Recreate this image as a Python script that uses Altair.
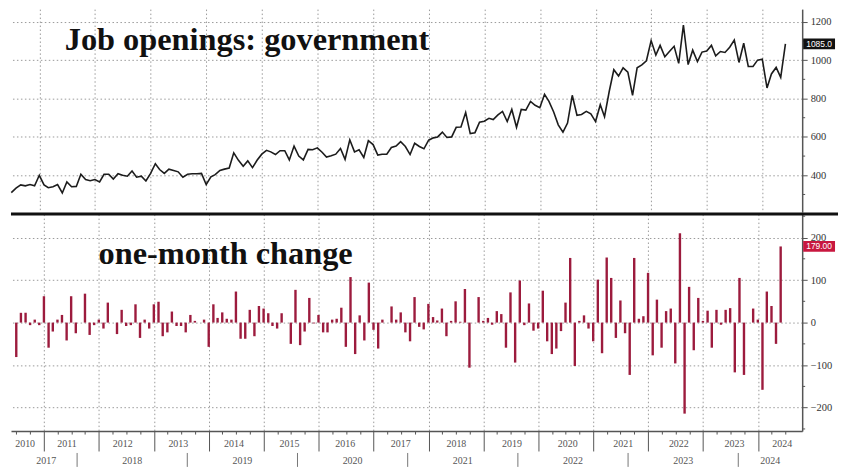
import altair as alt
import pandas as pd

# ---------------- data ----------------
level = [310, 333, 350, 345, 352, 345, 400, 350, 335, 340,
         352, 308, 365, 340, 342, 405, 378, 372, 378, 365,
         405, 405, 380, 408, 400, 395, 422, 390, 395, 370,
         410, 460, 430, 410, 432, 425, 418, 390, 405, 408,
         408, 410, 352, 392, 403, 425, 432, 438, 517, 478,
         447, 475, 440, 478, 510, 530, 522, 508, 528, 528,
         480, 552, 500, 480, 535, 533, 543, 520, 495, 502,
         510, 540, 483, 585, 522, 533, 493, 580, 560, 505,
         510, 510, 545, 552, 575, 550, 508, 567, 550, 538,
         583, 595, 600, 625, 597, 600, 650, 652, 727, 617,
         622, 677, 682, 697, 690, 715, 733, 680, 743, 650,
         743, 740, 785, 765, 752, 822, 785, 730, 663, 625,
         672, 817, 713, 717, 733, 720, 680, 768, 705, 838,
         950, 917, 960, 938, 817, 960, 975, 997, 1102, 1027,
         1077, 1018, 1045, 1072, 983, 1183, 977, 1052, 993, 1042,
         1048, 1077, 1022, 1045, 1040, 1067, 1105, 988, 1088, 967,
         967, 1000, 1005, 855, 928, 962, 910, 1085]

change = [-81, 23, 23, -6, 7, -6, 62, -59, -21, 7,
          18, -42, 62, -25, 0, 68, -29, -6, 7, -14,
          47, 0, -27, 30, -8, -6, 43, -36, 7, -14,
          43, 49, -32, -23, 26, -8, -8, -23, 18, 4,
          0, 7, -57, 43, 11, 24, 9, 7, 73, -38,
          -38, 30, -32, 39, 33, 22, -8, -14, 22, 0,
          -50, 77, -53, -21, 58, -2, 18, -23, -23, 7,
          9, 35, -57, 107, -74, 17, -42, 94, -17, -61,
          7, 0, 38, 7, 24, -23, -44, 60, -10, -16,
          44, 13, 5, 33, -32, 4, 50, 2, 79, -106,
          0, 60, 4, 11, -5, 27, 20, -59, 71, -94,
          99, -6, 45, -19, -14, 75, -44, -74, -61, -20,
          47, 152, -102, 4, 17, -14, -44, 101, -72, 153,
          105, -36, 52, -25, -123, 152, 9, 15, 117, -77,
          54, -59, 27, 33, -96, 210, -214, 84, -65, 58,
          4, 28, -59, 30, -5, 30, 34, -117, 105, -123,
          0, 33, 7, -158, 73, 39, -50, 179]

top_major_ticks = [400, 600, 800, 1000, 1200]
top_minor_ticks = [300, 500, 700, 900, 1100]
bot_major_ticks = [-200, -100, 0, 100, 200]
bot_minor_ticks = [-250, -150, -50, 50, 150, 250]

year_labels = [str(y) for y in range(2010, 2025)]
year_label_dates = ["2010-09-29"] + [f"{y}-07-01" for y in range(2011, 2024)] + ["2024-05-10"]

echo_labels = ["2017", "2018", "2019", "2020", "2021", "2022", "2023", "2024"]
echo_label_pos = [2017.72, 2018.5, 2019.5, 2020.5, 2021.5, 2022.5, 2023.5, 2024.29]
echo_ticks = [2018, 2019, 2020, 2021, 2022, 2023, 2024]

title_top = "Job openings: government"
title_bottom = "one-month change"

# ---------------- tables ----------------
dates = (pd.date_range("2010-07-01", periods=len(level), freq="MS")
         - pd.Timedelta(days=1)).strftime("%Y-%m-%d").tolist()
df = pd.DataFrame({"date": dates, "level": level, "change": change})
last = df.tail(1)
lab_df = pd.DataFrame({"lab": year_labels, "ldate": year_label_dates})
echo_df = pd.DataFrame({"lab": echo_labels, "pos": echo_label_pos})
echo_tick_df = pd.DataFrame({"pos": echo_ticks})
top_minor_df = pd.DataFrame({"v": top_minor_ticks})
bot_minor_df = pd.DataFrame({"v": bot_minor_ticks})
one = pd.DataFrame({"k": [0]})

W, HT, HB = 795, 204, 218
FONT = "Liberation Serif"
GRID = "#9a9a9a"

xdom = [alt.DateTime(year=2010, month=6, date=28), alt.DateTime(year=2024, month=9, date=18)]
xscale = alt.Scale(domain=xdom)


def y_axis(values):
    return alt.Axis(orient="right", values=values, format="d", grid=True,
                    gridDash=[1.5, 2.5], gridColor=GRID, tickSize=5,
                    tickColor="#555", domainColor="#555", domainWidth=1.5,
                    labelFont=FONT, labelFontSize=10.5, labelColor="#333",
                    labelPadding=3, title=None)


top_x_axis = alt.Axis(values=[alt.DateTime(year=y, month=1, date=1) for y in range(2011, 2025)],
                      labels=False, ticks=False, domain=False, grid=True,
                      gridDash=[1.5, 2.5], gridColor=GRID, title=None)
yt = alt.Scale(domain=[208, 1266], nice=False)

line = alt.Chart(df).mark_line(color="#1c1c1c", strokeWidth=1.6).encode(
    x=alt.X("date:T", scale=xscale, axis=top_x_axis),
    y=alt.Y("level:Q", scale=yt, axis=y_axis(top_major_ticks)),
)
top_minor = alt.Chart(top_minor_df).mark_rule(color="#555", strokeWidth=1).encode(
    x=alt.value(W), x2=alt.value(W + 3), y=alt.Y("v:Q", scale=yt))
top_box = alt.Chart(last).mark_point(
    shape="M-1,-0.34 L1,-0.34 L1,0.34 L-1,0.34 Z", size=1024, filled=True,
    color="#111", opacity=1).encode(x=alt.value(W + 17), y=alt.Y("level:Q", scale=yt))
top_box_t = alt.Chart(last).mark_text(color="white", font="Liberation Sans", fontSize=8.5,
                                      align="center", baseline="middle").encode(
    x=alt.value(W + 17), y=alt.Y("level:Q", scale=yt), text=alt.Text("level:Q", format=".1f"))
t1 = alt.Chart(one).mark_text(text=title_top, font=FONT, fontSize=32.5, fontWeight="bold",
                              color="#111", align="left", baseline="alphabetic").encode(
    x=alt.value(54), y=alt.value(41))

top = alt.layer(line, top_minor, top_box, top_box_t, t1).properties(width=W, height=HT)

# ---------------- bottom panel ----------------
quarters = []
for y in range(2010, 2025):
    for mth in (1, 4, 7, 10):
        if (y == 2010 and mth < 7) or (y == 2024 and mth > 7):
            continue
        quarters.append(alt.DateTime(year=y, month=mth, date=1))
jan = "month(datum.value) == 0"
bot_x_axis = alt.Axis(values=quarters, labels=False, title=None,
                      grid=True, gridDash=[1.5, 2.5], gridColor=GRID,
                      gridOpacity={"condition": {"test": jan, "value": 1}, "value": 0},
                      tickSize={"condition": {"test": jan, "value": 20}, "value": 3},
                      tickColor="#555", domainColor="#555", domainWidth=1.5)
yb = alt.Scale(domain=[-255, 255], nice=False)

bars = alt.Chart(df).mark_bar(width=2.4, color="#9c1b3d").encode(
    x=alt.X("date:T", scale=xscale, axis=bot_x_axis),
    y=alt.Y("change:Q", scale=yb, axis=y_axis(bot_major_ticks)),
)
bot_minor = alt.Chart(bot_minor_df).mark_rule(color="#555", strokeWidth=1).encode(
    x=alt.value(W), x2=alt.value(W + 3), y=alt.Y("v:Q", scale=yb))
sep = alt.Chart(one).mark_rule(color="#111", strokeWidth=3).encode(
    x=alt.value(0), x2=alt.value(W + 36), y=alt.value(0))
bot_box = alt.Chart(last).mark_point(
    shape="M-1,-0.34 L1,-0.34 L1,0.34 L-1,0.34 Z", size=1024, filled=True,
    color="#c8173f", opacity=1).encode(x=alt.value(W + 17), y=alt.Y("change:Q", scale=yb))
bot_box_t = alt.Chart(last).mark_text(color="white", font="Liberation Sans", fontSize=8.5,
                                      align="center", baseline="middle").encode(
    x=alt.value(W + 17), y=alt.Y("change:Q", scale=yb), text=alt.Text("change:Q", format=".2f"))
t2 = alt.Chart(one).mark_text(text=title_bottom, font=FONT, fontSize=32.5, fontWeight="bold",
                              color="#111", align="left", baseline="alphabetic").encode(
    x=alt.value(88), y=alt.value(50))
year_txt = alt.Chart(lab_df).mark_text(font=FONT, fontSize=10, color="#555",
                                       baseline="middle").encode(
    x=alt.X("ldate:T", scale=xscale, axis=None), y=alt.value(HB + 13), text="lab:N")
escale = alt.Scale(domain=[2017.40, 2024.58], nice=False, zero=False)
echo_txt = alt.Chart(echo_df).mark_text(font=FONT, fontSize=10, color="#555",
                                        baseline="middle").encode(
    x=alt.X("pos:Q", scale=escale, axis=None), y=alt.value(HB + 30), text="lab:N")
echo_tk = alt.Chart(echo_tick_df).mark_rule(color="#777", strokeWidth=1).encode(
    x=alt.X("pos:Q", scale=escale, axis=None), y=alt.value(HB + 22), y2=alt.value(HB + 36))

bottom = alt.layer(bars, bot_minor, sep, bot_box, bot_box_t, t2, year_txt,
                   echo_txt, echo_tk).resolve_scale(x="independent").properties(width=W, height=HB)

chart = alt.vconcat(top, bottom, spacing=0, padding=0, background="white").configure_view(
    strokeOpacity=0)

chart.save("out.html", embed_options={"renderer": "svg", "actions": False})
